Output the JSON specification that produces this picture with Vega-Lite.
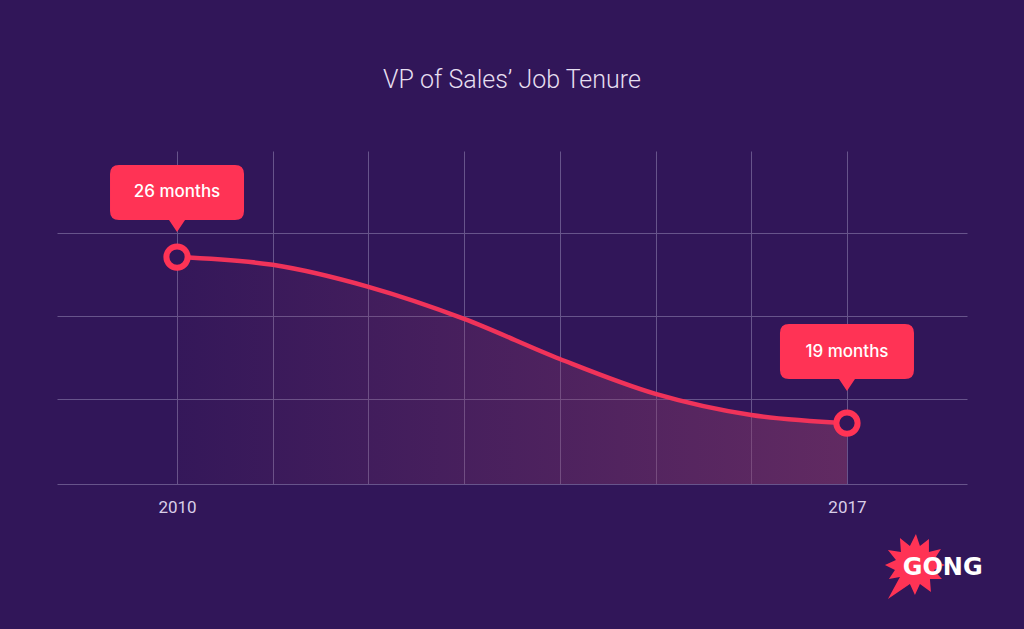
{
  "$schema": "https://vega.github.io/schema/vega-lite/v6.json",
  "width": 910,
  "height": 333,
  "autosize": "none",
  "padding": {"left": 57, "top": 151, "right": 57, "bottom": 145},
  "background": "#311659",
  "title": {
    "text": "VP of Sales’ Job Tenure",
    "font": "Roboto",
    "fontWeight": 300,
    "fontSize": 25,
    "color": "#e6dff0",
    "anchor": "middle",
    "baseline": "alphabetic",
    "offset": 38
  },
  "config": {
    "view": {"stroke": null},
    "axis": {"gridColor": "#67548b", "gridWidth": 1, "domainColor": "#67548b", "ticks": false, "title": null}
  },
  "data": {
    "values": [
      {"year": 2010, "months": 26, "label": "26 months"},
      {"year": 2011, "months": 25.67},
      {"year": 2012, "months": 24.74},
      {"year": 2013, "months": 23.39},
      {"year": 2014, "months": 21.7},
      {"year": 2015, "months": 20.23},
      {"year": 2016, "months": 19.34},
      {"year": 2017, "months": 19, "label": "19 months", "logo": "GONG"}
    ]
  },
  "encoding": {
    "x": {
      "field": "year",
      "type": "quantitative",
      "scale": {"domain": [2008.746, 2018.254], "nice": false, "zero": false},
      "axis": {
        "values": [2010, 2011, 2012, 2013, 2014, 2015, 2016, 2017],
        "format": "d",
        "labelExpr": "datum.value == 2010 || datum.value == 2017 ? datum.label : ''",
        "labelFont": "Roboto",
        "labelFontSize": 17,
        "labelColor": "#d9cfe8",
        "labelPadding": 15,
        "grid": true,
        "domain": true
      }
    },
    "y": {
      "field": "months",
      "type": "quantitative",
      "scale": {"domain": [16.43, 30.47], "nice": false, "zero": false},
      "axis": {"values": [20, 23.5, 27], "labels": false, "domain": false, "grid": true}
    }
  },
  "layer": [
    {
      "mark": {
        "type": "area",
        "interpolate": "monotone",
        "color": {
          "gradient": "linear",
          "x1": 0, "x2": 1, "y1": 0, "y2": 0,
          "stops": [
            {"offset": 0, "color": "rgba(141,61,106,0.04)"},
            {"offset": 1, "color": "rgba(141,61,106,0.52)"}
          ]
        }
      },
      "encoding": {"y2": {"datum": 16.43}}
    },
    {
      "mark": {"type": "line", "interpolate": "monotone", "color": "#f0335a", "strokeWidth": 4.5}
    },
    {
      "transform": [{"filter": "isValid(datum.label)"}],
      "mark": {"type": "point", "shape": "circle", "size": 452, "filled": true, "fill": "#311659", "stroke": "#ff3355", "strokeWidth": 6, "opacity": 1}
    },
    {
      "transform": [{"filter": "datum.year == 2010"}],
      "mark": {"type": "point", "filled": true, "size": 4, "color": "#ff3355", "opacity": 1, "strokeWidth": 0,
        "shape": "M-58,-92L58,-92Q67,-92 67,-83L67,-46Q67,-37 58,-37L8,-37L0,-25L-8,-37L-58,-37Q-67,-37 -67,-46L-67,-83Q-67,-92 -58,-92Z"}
    },
    {
      "transform": [{"filter": "datum.year == 2017"}],
      "mark": {"type": "point", "filled": true, "size": 4, "color": "#ff3355", "opacity": 1, "strokeWidth": 0,
        "shape": "M-58,-99L58,-99Q67,-99 67,-90L67,-53Q67,-44 58,-44L8,-44L0,-32L-8,-44L-58,-44Q-67,-44 -67,-53L-67,-90Q-67,-99 -58,-99Z"}
    },
    {
      "transform": [{"filter": "datum.year == 2010"}],
      "mark": {"type": "text", "dy": -65, "baseline": "middle", "align": "center", "font": "Inter", "fontWeight": 500, "fontSize": 17, "color": "#ffffff"},
      "encoding": {"text": {"field": "label"}}
    },
    {
      "transform": [{"filter": "datum.year == 2017"}],
      "mark": {"type": "text", "dy": -71, "baseline": "middle", "align": "center", "font": "Inter", "fontWeight": 500, "fontSize": 17, "color": "#ffffff"},
      "encoding": {"text": {"field": "label"}}
    },
    {
      "transform": [{"filter": "isValid(datum.logo)"}],
      "mark": {"type": "point", "filled": true, "size": 4, "color": "#ff3355", "opacity": 1, "strokeWidth": 0,
        "shape": "M30,81L19,86L27,95L15,95L16,108L5,100L0,111L-5,100L-27,115L-15,93L-26,95L-20,86L-30,81L-19,76L-27,66L-14,68L-15,54L-5,62L1,50L5,62L14,55L14,68L26,65L19,76Z"},
      "encoding": {"x": {"datum": 2017.71, "type": "quantitative"}, "y": {"datum": 16.43, "type": "quantitative"}}
    },
    {
      "transform": [{"filter": "isValid(datum.logo)"}],
      "mark": {"type": "text", "dy": 84, "font": "DejaVu Sans", "fontWeight": "bold", "fontSize": 24, "color": "#ffffff", "align": "center", "baseline": "middle"},
      "encoding": {"x": {"datum": 2018.0, "type": "quantitative"}, "y": {"datum": 16.43, "type": "quantitative"}, "text": {"field": "logo"}}
    }
  ]
}
